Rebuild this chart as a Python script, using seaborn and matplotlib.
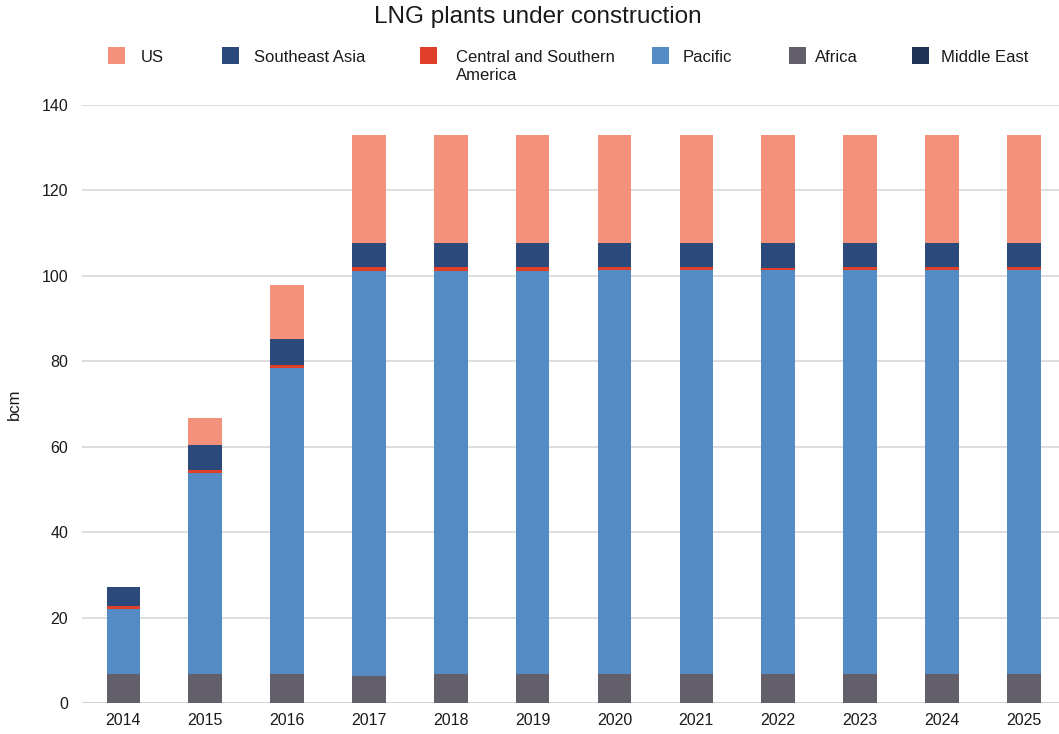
import numpy as np
import pandas as pd
import matplotlib
matplotlib.use("Agg")
import matplotlib.pyplot as plt
from matplotlib.patches import Rectangle
import seaborn as sns

# Capacity of LNG plants under construction, bcm, by region
years = ["2014", "2015", "2016", "2017", "2018", "2019",
         "2020", "2021", "2022", "2023", "2024", "2025"]
africa = [6.7, 6.7, 6.7, 6.3, 6.7, 6.7, 6.7, 6.7, 6.7, 6.7, 6.7, 6.7]
pacific = [15.3, 47.2, 71.7, 94.8, 94.4, 94.4, 94.7, 94.7, 94.7, 94.7, 94.7, 94.7]
central_southern_america = [0.8, 0.7, 0.7, 0.9, 0.9, 0.9, 0.7, 0.7, 0.5, 0.7, 0.7, 0.7]
middle_east = [0.0] * 12
southeast_asia = [4.4, 5.8, 6.1, 5.7, 5.7, 5.7, 5.6, 5.6, 5.8, 5.6, 5.6, 5.6]
us = [0.0, 6.3, 12.7, 25.3, 25.3, 25.3, 25.3, 25.3, 25.3, 25.3, 25.3, 25.3]

legend_labels = ["US", "Southeast Asia", "Central and Southern\nAmerica",
                 "Pacific", "Africa", "Middle East"]

colors = {
    "US": "#f4917b",
    "Southeast Asia": "#2b4a7b",
    "Central and Southern\nAmerica": "#e03f29",
    "Pacific": "#558bc4",
    "Africa": "#625f6b",
    "Middle East": "#1f3357",
}

# bottom-to-top stacking order
stack = [
    ("Africa", africa),
    ("Pacific", pacific),
    ("Central and Southern\nAmerica", central_southern_america),
    ("Middle East", middle_east),
    ("Southeast Asia", southeast_asia),
    ("US", us),
]

sns.set_style("white")
plt.rcParams["font.family"] = ["Liberation Sans", "DejaVu Sans"]

W, H = 1059, 734
fig = plt.figure(figsize=(W / 100, H / 100), dpi=100)
ax = fig.add_axes([82 / W, 1 - 703 / H, (W - 82) / W, (703 - 105) / H])

bottom = np.zeros(len(years))
for name, vals in stack:
    vals = np.asarray(vals, dtype=float)
    df = pd.DataFrame({"year": years, "value": vals})
    sns.barplot(data=df, x="year", y="value", bottom=bottom, color=colors[name],
                width=0.41, errorbar=None, saturation=1, linewidth=0, ax=ax)
    bottom = bottom + vals

ax.set_ylim(0, 140)
ax.set_xlim(-0.505, 11.43)
ax.set_yticks(np.arange(0, 141, 20))
ax.yaxis.grid(True, color="#d4d4d4", linewidth=1.1)
ax.set_axisbelow(True)
for s in ["top", "right", "left", "bottom"]:
    ax.spines[s].set_visible(False)
ax.axhline(0, color="#c4c4c4", linewidth=1.8, zorder=0.5)
ax.tick_params(axis="both", length=0, labelsize=11.5, colors="#1a1a1a")
ax.tick_params(axis="x", pad=7)
ax.tick_params(axis="y", pad=10)
ax.set_xlabel("")
ax.set_ylabel("bcm", fontsize=12, color="#1a1a1a", labelpad=14)

fig.text(538 / W, 1 - 16.5 / H, "LNG plants under construction",
         ha="center", va="center", fontsize=17.5, color="#1a1a1a")

# legend row across the top; wrapped labels continue on a second line
sq_left = [108, 222, 420, 652, 789, 912]
txt_left = [141, 254, 456, 683, 815, 941]
for lab, sx, tx in zip(legend_labels, sq_left, txt_left):
    fig.add_artist(Rectangle((sx / W, 1 - 63.5 / H), 16.5 / W, 16.5 / H,
                             transform=fig.transFigure, color=colors[lab],
                             linewidth=0))
    for i, line in enumerate(lab.split("\n")):
        fig.text(tx / W, 1 - (62.5 + 18 * i) / H, line, ha="left",
                 va="baseline", fontsize=12, color="#1a1a1a")

fig.savefig("out.png", dpi=100)
